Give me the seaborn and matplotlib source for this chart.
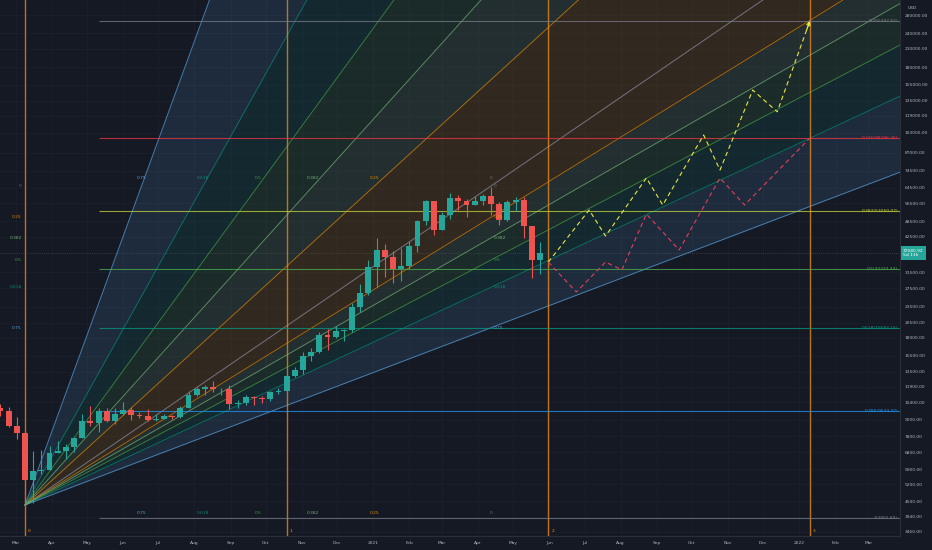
import numpy as np
import pandas as pd
import matplotlib
matplotlib.use("Agg")
import matplotlib.pyplot as plt
import matplotlib.dates as mdates
from matplotlib.ticker import FixedLocator, NullLocator
import seaborn as sns

# weekly BTCUSD candles, bar dated by its week open
week_open = pd.date_range("2020-02-10", periods=68, freq="7D")
opens = [10150, 9920, 9670, 8530, 8033, 5361, 5830, 5880, 6780, 6880, 7120, 7690,
         8900, 8730, 9690, 8900, 9450, 9750, 9340, 9300, 9000, 9070, 9240, 9160,
         9950, 11070, 11700, 11860, 11660, 11700, 10280, 10330, 10930, 10770, 10680, 11370,
         11500, 13030, 13760, 15480, 15950, 18420, 18180, 19150, 19270, 23480, 26450, 33000,
         38150, 35800, 32250, 33100, 39200, 48600, 57400, 45200, 51200, 59000, 57400, 55800,
         57800, 60000, 56200, 49100, 57000, 58300, 46500, 34800]
highs = [10500, 10250, 9970, 9190, 8150, 6900, 6970, 7200, 7470, 7300, 7750, 9460,
         10070, 9950, 9900, 9900, 10430, 9990, 9600, 9800, 9400, 9450, 9350, 10120,
         11450, 11900, 12090, 12470, 11810, 12100, 10600, 11100, 10990, 10950, 11500, 11720,
         13350, 14100, 15970, 16490, 19000, 19500, 19900, 19420, 24300, 28400, 34800, 42000,
         40100, 37800, 38500, 40900, 49000, 58300, 57500, 52700, 61800, 60700, 58400, 60200,
         61300, 64900, 57000, 58000, 59500, 59600, 46700, 40800]
lows = [9720, 9300, 8450, 7630, 4352, 4440, 5670, 5860, 6750, 6460, 6800, 7660,
        8530, 8100, 8800, 8640, 9390, 8980, 9100, 8900, 8900, 9060, 9030, 9130,
        9900, 10990, 11100, 11370, 11120, 9870, 9900, 10200, 10140, 10370, 10530, 11200,
        11420, 12960, 13200, 14800, 15800, 16200, 18000, 17600, 19000, 22350, 25900, 27700,
        30300, 28800, 29200, 32300, 37400, 47000, 43000, 45000, 49300, 53300, 50400, 55500,
        55500, 51000, 47100, 48800, 53100, 42000, 30000, 31100]
closes = [9920, 9670, 8530, 8033, 5361, 5830, 5880, 6780, 6880, 7120, 7690, 8900,
          8730, 9690, 8900, 9450, 9750, 9340, 9300, 9000, 9070, 9240, 9160, 9950,
          11070, 11700, 11860, 11660, 11700, 10280, 10330, 10930, 10770, 10680, 11370, 11500,
          13030, 13760, 15480, 15950, 18420, 18180, 19150, 19270, 23480, 26450, 33000, 38150,
          35800, 32250, 33100, 39200, 48600, 57400, 45200, 51200, 59000, 57400, 55800, 57800,
          60000, 56200, 49100, 57000, 58300, 46500, 34800, 37040.92]
last_price = 37040.92

# time cycle lines (32 weeks apart)
cycle_dates = pd.to_datetime(["2020-03-09", "2020-10-19", "2021-05-31", "2022-01-10"])
cycle_labels = ["0", "1", "2", "3"]

# fib retracement (log)
fib_start = pd.Timestamp("2020-05-11")
fib_levels = ["0", "0.236", "0.382", "0.5", "0.618", "0.786", "1"]
fib_prices = [266497.83, 98296.36, 53050.07, 32233.44, 19584.16, 9634.37, 3902.89]
fib_colors = ["#787b86", "#f23645", "#c6d43a", "#4caf50", "#089981", "#2196f3", "#787b86"]

# fib speed resistance fan
fan_a_date, fan_a_price = pd.Timestamp("2020-03-09"), 4352.0
fan_b_date, fan_b_price = pd.Timestamp("2021-04-12"), 65480.0
fan_levels = [0, 0.25, 0.382, 0.5, 0.618, 0.75]
fan_names = ["0", "0.25", "0.382", "0.5", "0.618", "0.75"]
fan_colors = ["#787b86", "#ff9800", "#81c784", "#4caf50", "#089981", "#64b5f6"]

# projected paths
yellow_dates = pd.to_datetime(["2021-05-31", "2021-07-05", "2021-07-19", "2021-08-23", "2021-09-06",
                               "2021-10-11", "2021-10-25", "2021-11-22", "2021-12-13", "2022-01-10"])
yellow_prices = [34300, 53400, 42800, 70100, 55700, 101000, 75000, 148000, 123000, 266500]
red_dates = pd.to_datetime(["2021-05-31", "2021-06-24", "2021-07-19", "2021-08-02", "2021-08-23",
                            "2021-09-20", "2021-10-25", "2021-11-15", "2022-01-10"])
red_prices = [34300, 26600, 34300, 32100, 51600, 38000, 70100, 55700, 98450]

price_ticks = [320000, 280000, 240000, 210000, 180000, 155000, 135000, 119000, 103000, 87000,
               74500, 64500, 56500, 48500, 42500, 31500, 27500, 23500, 20500, 18000, 15500,
               13500, 11900, 10400, 9000, 7800, 6800, 5900, 5200, 4500, 3940, 3460]
month_ticks = pd.date_range("2020-03-01", "2022-03-01", freq="MS")
month_labels = [str(d.year) if d.month == 1 else d.strftime("%b") for d in month_ticks]

BG = "#151924"
TXT = "#b2b5be"
UP, DOWN = "#26a69a", "#ef5350"
FS = 3.2

sns.set_style("dark", {"axes.facecolor": BG, "figure.facecolor": BG})
plt.rcParams["font.family"] = ["DejaVu Sans"]

fig = plt.figure(figsize=(9.32, 5.5), dpi=100)
ax = fig.add_axes([0, 14 / 550, 900 / 932, 536 / 550])
ax.set_facecolor(BG)
ax.set_yscale("log")

t0 = mdates.date2num(fan_a_date)
x_left, x_right = t0 - 21.4, t0 + 749.1

# fan lines are straight in log-price space
ta, tb = mdates.date2num(fan_a_date), mdates.date2num(fan_b_date)
la, lb = np.log10(fan_a_price), np.log10(fan_b_price)
tt = np.linspace(ta, x_right, 800)
xd = mdates.num2date(tt)


def price_line(r):
    pr = np.log10(fan_b_price - r * (fan_b_price - fan_a_price))
    return 10 ** (la + (pr - la) * (tt - ta) / (tb - ta))


def time_line(r):
    tr = tb - r * (tb - ta)
    return 10 ** (la + (lb - la) * (tt - ta) / (tr - ta))


for i in range(1, len(fan_levels)):
    ax.fill_between(xd, time_line(fan_levels[i]), time_line(fan_levels[i - 1]),
                    color=fan_colors[i], alpha=0.12, lw=0, zorder=1)
    ax.fill_between(xd, price_line(fan_levels[i - 1]), price_line(fan_levels[i]),
                    color=fan_colors[i], alpha=0.12, lw=0, zorder=1)
for r, c in zip(fan_levels, fan_colors):
    ax.plot(xd, time_line(r), color=c, lw=0.7, alpha=0.6, zorder=2)
    ax.plot(xd, price_line(r), color=c, lw=0.7, alpha=0.6, zorder=2)

# fan grid labels
pt = 0.72
for r, name, c in zip(fan_levels, fan_names, fan_colors):
    pr = fan_b_price - r * (fan_b_price - fan_a_price)
    tr = mdates.num2date(tb - r * (tb - ta))
    kw = dict(textcoords="offset points", fontsize=FS, color=c, alpha=0.85, zorder=6)
    ax.annotate(name, (fan_a_date, pr), xytext=(-3 * pt, 0), ha="right", va="center", **kw)
    ax.annotate(name, (fan_b_date, pr), xytext=(3 * pt, 0), ha="left", va="center", **kw)
    ax.annotate(name, (tr, fan_b_price), xytext=(0, 8 * pt), ha="center", va="center", **kw)
    ax.annotate(name, (tr, fan_a_price), xytext=(0, -8 * pt), ha="center", va="center", **kw)

# cycle lines
for d, lab in zip(cycle_dates, cycle_labels):
    ax.axvline(d, color="#e8891c", lw=1.0, alpha=0.8, zorder=3)
    ax.annotate(lab, (d, 0), xycoords=("data", "axes fraction"), xytext=(3 * pt, 5 * pt),
                textcoords="offset points", fontsize=FS, color="#ff9800", ha="left", va="center")

# fib retracement lines
for lvl, p, c in zip(fib_levels, fib_prices, fib_colors):
    ax.hlines(p, fib_start, mdates.num2date(x_right), color=c, lw=0.8, alpha=0.75, zorder=3)
    ax.annotate(f"{lvl}({p:.2f})", (mdates.num2date(x_right), p), xytext=(-2 * pt, 0),
                textcoords="offset points", fontsize=FS, color=c, ha="right", va="center", zorder=6)

# last price line
ax.axhline(last_price, color="#787b86", lw=0.5, ls=(0, (1, 2)), alpha=0.6, zorder=3)

# candles
body_w = 5.0
for d, o, h, l, c in zip(week_open, opens, highs, lows, closes):
    col = UP if c >= o else DOWN
    ax.vlines(d, l, h, color=col, lw=0.8, zorder=4)
    ax.bar(d, abs(c - o), bottom=min(o, c), width=body_w, color=col, lw=0, zorder=5)

# projections
sns.lineplot(x=yellow_dates, y=yellow_prices, ax=ax, color="#e8e83a", lw=0.8,
             linestyle=(0, (4, 3)), sort=False, zorder=6)
sns.lineplot(x=red_dates, y=red_prices, ax=ax, color="#e0405a", lw=0.8,
             linestyle=(0, (4, 3)), sort=False, zorder=6)
# arrow head only, pointing along the last leg
t_end, t_prev = mdates.date2num(yellow_dates[-1]), mdates.date2num(yellow_dates[-2])
l_end, l_prev = np.log10(yellow_prices[-1]), np.log10(yellow_prices[-2])
f = 0.9
head_from = (mdates.num2date(t_prev + f * (t_end - t_prev)), 10 ** (l_prev + f * (l_end - l_prev)))
ax.annotate("", xy=(yellow_dates[-1], yellow_prices[-1]), xytext=head_from,
            arrowprops=dict(arrowstyle="->", color="#e8e83a", lw=0.9, shrinkA=0, shrinkB=0,
                            mutation_scale=6), zorder=7)

# axes
ax.set_xlim(mdates.num2date(x_left), mdates.num2date(x_right))
ax.set_ylim(3344, 318100)
ax.yaxis.tick_right()
ax.yaxis.set_major_locator(FixedLocator(price_ticks))
ax.yaxis.set_minor_locator(NullLocator())
ax.set_yticklabels([f"{p:.2f}" for p in price_ticks])
ax.set_xticks(month_ticks)
ax.set_xticklabels(month_labels)
ax.xaxis.set_minor_locator(NullLocator())
ax.tick_params(axis="both", length=0, labelsize=FS, labelcolor=TXT)
ax.tick_params(axis="y", pad=3.6)
ax.tick_params(axis="x", pad=3.8)
ax.set_xlabel("")
ax.set_ylabel("")
ax.grid(True, color="#1d212e", lw=0.5)
ax.set_axisbelow(True)
for s in ["left", "top"]:
    ax.spines[s].set_visible(False)
for s in ["right", "bottom"]:
    ax.spines[s].set_color("#2a2e39")
    ax.spines[s].set_linewidth(0.8)

# last price tag and currency
ax.annotate(f"{last_price:.2f}\n5d 13h", (1, last_price), xycoords=("axes fraction", "data"),
            xytext=(3 * pt, 0), textcoords="offset points", fontsize=FS, color="white",
            ha="left", va="center", linespacing=1.3, annotation_clip=False,
            bbox=dict(boxstyle="square,pad=0.5", fc=UP, ec="none"))
fig.text(912 / 932, 1 - 8 / 550, "USD", fontsize=FS, color=TXT, ha="center", va="center")

fig.savefig("out.png", dpi=100, facecolor=BG)
